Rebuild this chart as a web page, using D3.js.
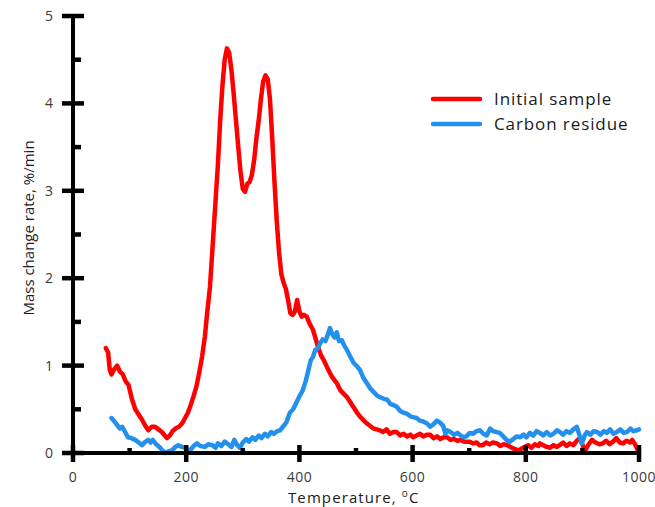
<!DOCTYPE html>
<html>
<head>
<meta charset="utf-8">
<script src="https://cdn.jsdelivr.net/npm/d3@7"></script>
<style>
  body { margin: 0; background: #fff; }
  svg { display: block; font-family: "Open Sans", "Noto Sans", sans-serif; }
  .tick-label { fill: #3a3a3a; font-size: 14px; }
  .axis-title { fill: #1a1a1a; font-size: 15px; }
  .legend-label { fill: #1a1a1a; font-size: 17px; }
</style>
</head>
<body>
<div id="chart"></div>
<script>
// Temperature (°C) vs mass change rate (%/min)
const initialSample = [
  [58,1.20],[62,1.15],[65,0.95],[68,0.90],[72,0.95],[78,1.00],[83,0.93],[88,0.90],[93,0.82],[98,0.78],
  [104,0.62],[110,0.50],[116,0.44],[122,0.38],[127,0.32],[133,0.26],[139,0.30],[145,0.30],[151,0.27],[157,0.24],
  [162,0.20],[166,0.17],[171,0.20],[176,0.25],[181,0.28],[187,0.30],[193,0.34],[198,0.40],[203,0.46],[208,0.55],
  [213,0.65],[218,0.76],[223,0.92],[228,1.10],[233,1.33],[237,1.60],[242,1.90],[247,2.40],[251,2.80],[256,3.30],
  [260,3.80],[264,4.20],[268,4.50],[272,4.63],[276,4.58],[280,4.38],[284,4.10],[288,3.80],[292,3.50],[296,3.22],
  [300,3.02],[304,2.99],[308,3.08],[312,3.10],[316,3.18],[320,3.35],[324,3.60],[328,3.80],[332,4.05],[336,4.25],
  [340,4.32],[344,4.28],[348,4.05],[352,3.60],[356,3.10],[360,2.65],[364,2.30],[368,2.05],[372,1.95],[376,1.88],
  [380,1.75],[384,1.60],[388,1.58],[392,1.62],[396,1.75],[400,1.62],[404,1.56],[408,1.58],[413,1.56],[418,1.48],
  [424,1.41],[429,1.30],[433,1.21],[438,1.12],[444,1.05],[449,0.98],[455,0.90],[460,0.85],[466,0.80],[472,0.72],
  [478,0.68],[484,0.64],[490,0.58],[496,0.52],[502,0.46],[508,0.41],[514,0.37],[519,0.34],[525,0.31],[531,0.28],
  [537,0.27],[542,0.26],[548,0.24],[554,0.27],[560,0.22],[566,0.24],[572,0.24],[578,0.20],[584,0.22],[590,0.19],
  [596,0.21],[601,0.18],[607,0.20],[613,0.22],[619,0.19],[625,0.21],[631,0.21],[637,0.17],[643,0.19],[649,0.16],
  [655,0.18],[661,0.18],[667,0.15],[673,0.16],[679,0.14],[685,0.15],[691,0.13],[696,0.13],[701,0.13],[707,0.11],
  [713,0.12],[718,0.09],[724,0.09],[730,0.12],[736,0.10],[742,0.12],[749,0.11],[755,0.08],[761,0.10],[767,0.09],
  [773,0.07],[779,0.05],[786,0.03],[792,0.05],[798,0.07],[804,0.09],[810,0.06],[816,0.10],[822,0.08],[825,0.11],
  [831,0.09],[837,0.07],[843,0.06],[849,0.09],[855,0.07],[860,0.09],[866,0.12],[872,0.08],[878,0.11],[884,0.09],
  [890,0.14],[896,0.17],[901,0.08],[905,0.03],[911,0.10],[917,0.15],[923,0.12],[930,0.10],[936,0.11],[942,0.14],
  [948,0.10],[954,0.13],[960,0.17],[966,0.12],[972,0.11],[978,0.14],[984,0.12],[988,0.15],[993,0.10],[998,0.03],
  [1000,0.02]
];

const carbonResidue = [
  [68,0.40],[72,0.37],[78,0.32],[83,0.28],[87,0.30],[92,0.24],[97,0.18],[103,0.17],[110,0.15],[116,0.12],
  [122,0.09],[128,0.13],[133,0.15],[137,0.12],[141,0.15],[147,0.10],[154,0.06],[158,0.03],[163,0.00],[169,0.02],
  [175,0.03],[181,0.07],[186,0.09],[192,0.07],[198,0.06],[203,0.04],[207,0.03],[213,0.08],[219,0.11],[225,0.08],
  [233,0.07],[239,0.10],[246,0.09],[252,0.06],[256,0.11],[262,0.08],[268,0.13],[274,0.10],[280,0.07],[285,0.15],
  [290,0.09],[295,0.06],[300,0.12],[306,0.16],[311,0.13],[317,0.18],[322,0.15],[328,0.20],[333,0.17],[339,0.22],
  [344,0.19],[350,0.24],[355,0.22],[361,0.25],[366,0.26],[371,0.30],[377,0.35],[383,0.46],[389,0.50],[395,0.58],
  [401,0.66],[406,0.72],[411,0.82],[416,0.95],[420,1.06],[424,1.10],[428,1.18],[433,1.20],[437,1.26],[441,1.30],
  [446,1.28],[450,1.35],[454,1.43],[458,1.36],[462,1.32],[466,1.38],[470,1.28],[475,1.29],[480,1.22],[484,1.18],
  [490,1.10],[496,1.03],[502,0.99],[507,0.95],[513,0.86],[519,0.80],[525,0.74],[531,0.70],[537,0.66],[542,0.64],
  [549,0.62],[555,0.61],[561,0.56],[566,0.55],[572,0.53],[578,0.48],[584,0.46],[590,0.45],[596,0.42],[601,0.41],
  [607,0.40],[613,0.37],[619,0.36],[625,0.34],[631,0.30],[637,0.33],[643,0.37],[648,0.35],[654,0.31],[658,0.22],
  [661,0.26],[667,0.24],[673,0.21],[679,0.23],[685,0.20],[689,0.18],[695,0.19],[701,0.23],[707,0.22],[713,0.25],
  [719,0.26],[725,0.22],[731,0.20],[737,0.28],[742,0.25],[748,0.24],[754,0.23],[760,0.19],[766,0.15],[772,0.13],
  [778,0.16],[784,0.19],[790,0.18],[796,0.21],[801,0.18],[807,0.23],[813,0.20],[819,0.25],[825,0.23],[831,0.20],
  [837,0.24],[843,0.20],[849,0.22],[855,0.26],[860,0.24],[866,0.21],[872,0.25],[878,0.23],[884,0.27],[890,0.30],
  [895,0.20],[899,0.11],[904,0.20],[908,0.24],[914,0.21],[920,0.25],[926,0.24],[932,0.21],[938,0.25],[943,0.23],
  [949,0.27],[955,0.22],[961,0.24],[967,0.27],[973,0.23],[979,0.24],[985,0.28],[990,0.25],[996,0.26],[1000,0.27]
];

const xMajorTicks = [0, 200, 400, 600, 800, 1000];
const xMinorTicks = [100, 300, 500, 700, 900];
const yMajorTicks = [0, 1, 2, 3, 4, 5];
const yMinorTicks = [0.5, 1.5, 2.5, 3.5, 4.5];

const seriesNames = ["Initial sample", "Carbon residue"];
const seriesColors = ["#ff0000", "#2490ee"];

const width = 655, height = 507;
const margin = { top: 16, right: 16, bottom: 54, left: 73 };

const svg = d3.select("#chart").append("svg")
  .attr("width", width)
  .attr("height", height);

const x = d3.scaleLinear().domain([0, 1000]).range([margin.left, width - margin.right]);
const y = d3.scaleLinear().domain([0, 5]).range([height - margin.bottom, margin.top]);

// Data lines (drawn first so the axes sit on top)
const line = d3.line().x(d => x(d[0])).y(d => y(d[1]));
[initialSample, carbonResidue].forEach((data, i) => {
  svg.append("path")
    .datum(data)
    .attr("fill", "none")
    .attr("stroke", seriesColors[i])
    .attr("stroke-width", 4.5)
    .attr("stroke-linejoin", "round")
    .attr("stroke-linecap", "round")
    .attr("d", line);
});

// X axis
const xAxis = svg.append("g").attr("transform", `translate(0,${y(0)})`);
xAxis.append("line")
  .attr("x1", x(0)).attr("x2", x(1000))
  .attr("stroke", "#000").attr("stroke-width", 4);
xAxis.selectAll(".major").data(xMajorTicks).enter().append("line")
  .attr("x1", d => x(d)).attr("x2", d => x(d))
  .attr("y1", -8).attr("y2", 9)
  .attr("stroke", "#000").attr("stroke-width", 4.5);
xAxis.selectAll(".minor").data(xMinorTicks).enter().append("line")
  .attr("x1", d => x(d)).attr("x2", d => x(d))
  .attr("y1", -5).attr("y2", 0)
  .attr("stroke", "#000").attr("stroke-width", 4.5);
xAxis.selectAll(".tick-label").data(xMajorTicks).enter().append("text")
  .attr("class", "tick-label")
  .attr("x", d => x(d)).attr("y", 29)
  .attr("text-anchor", "middle")
  .attr("letter-spacing", "0.5px")
  .text(d => d);

// Y axis
const yAxis = svg.append("g").attr("transform", `translate(${x(0)},0)`);
yAxis.append("line")
  .attr("y1", y(0) + 2).attr("y2", y(5))
  .attr("stroke", "#000").attr("stroke-width", 4);
yAxis.selectAll(".major").data(yMajorTicks).enter().append("line")
  .attr("x1", -11).attr("x2", 11)
  .attr("y1", d => y(d)).attr("y2", d => y(d))
  .attr("stroke", "#000").attr("stroke-width", 4.5);
yAxis.selectAll(".minor").data(yMinorTicks).enter().append("line")
  .attr("x1", 0).attr("x2", 8)
  .attr("y1", d => y(d)).attr("y2", d => y(d))
  .attr("stroke", "#000").attr("stroke-width", 4.5);
yAxis.selectAll(".tick-label").data(yMajorTicks).enter().append("text")
  .attr("class", "tick-label")
  .attr("x", -20).attr("y", d => y(d) + 5)
  .attr("text-anchor", "end")
  .text(d => d);

// Axis titles
const xTitle = svg.append("text")
  .attr("class", "axis-title")
  .attr("x", 288).attr("y", 503)
  .attr("letter-spacing", "1.1px");
xTitle.append("tspan").text("Temperature, ");
xTitle.append("tspan").attr("font-size", "10px").attr("dy", -6).text("o");
xTitle.append("tspan").attr("dy", 6).text("C");

svg.append("text")
  .attr("class", "axis-title")
  .attr("transform", `translate(34,228) rotate(-90)`)
  .attr("text-anchor", "middle")
  .text("Mass change rate, %/min");

// Legend
const legend = svg.append("g");
seriesNames.forEach((name, i) => {
  const ly = 99 + i * 25;
  legend.append("line")
    .attr("x1", 433).attr("x2", 480)
    .attr("y1", ly).attr("y2", ly)
    .attr("stroke", seriesColors[i]).attr("stroke-width", 4.5)
    .attr("stroke-linecap", "round");
  legend.append("text")
    .attr("class", "legend-label")
    .attr("x", 494).attr("y", ly + 6)
    .attr("letter-spacing", "0.9px")
    .text(name);
});
</script>
</body>
</html>
